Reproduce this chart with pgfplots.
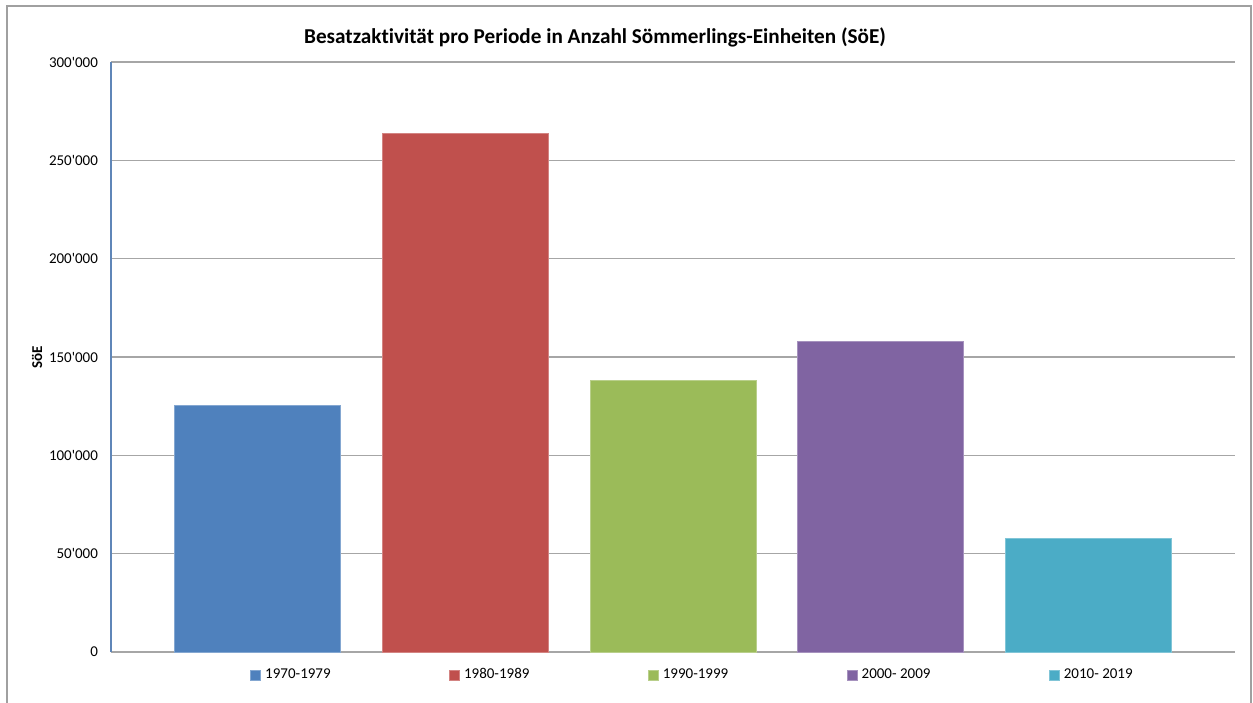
\documentclass[border=0pt]{standalone}
\usepackage{pgfplots}
\pgfplotsset{compat=1.18}
\usepackage{fontspec}
\setmainfont{Carlito}[Ligatures={TeXOff,NoCommon}]

\definecolor{cA}{HTML}{4F81BD}
\definecolor{cB}{HTML}{C0504D}
\definecolor{cC}{HTML}{9BBB59}
\definecolor{cD}{HTML}{8064A2}
\definecolor{cE}{HTML}{4BACC6}
\definecolor{gridgray}{HTML}{A6A6A6}
\definecolor{frame}{HTML}{A0A0A0}
\definecolor{yaxisblue}{HTML}{5F86B8}

\begin{document}
\begin{tikzpicture}
\useasboundingbox (0,0) rectangle (626.5pt,351pt);
% outer chart frame
\draw[frame, line width=1pt] (3.5pt,-6pt) rectangle (625.5pt,348pt);
% title
\node[font=\fontsize{10.6}{12}\selectfont\bfseries] at (297.5pt,332.5pt)
  {Besatzaktivität pro Periode in Anzahl Sömmerlings-Einheiten (SöE)};

\begin{axis}[
  at={(55.5pt,25pt)}, anchor=south west,
  scale only axis, width=562pt, height=295pt,
  xmin=-0.705, xmax=4.705, ymin=0, ymax=300000,
  xtick=\empty,
  scaled y ticks=false,
  ytick={0,50000,100000,150000,200000,250000,300000},
  yticklabels={0,50'000,100'000,150'000,200'000,250'000,300'000},
  yticklabel style={font=\fontsize{7.5}{9}\selectfont, xshift=-3pt},
  major tick length=0pt,
  ymajorgrids, grid style={gridgray, line width=0.8pt},
  axis x line*=bottom, axis y line*=left,
  x axis line style={gridgray, line width=1pt, -},
  y axis line style={yaxisblue, line width=0.6pt, -},
  ylabel={SöE},
  ylabel style={font=\fontsize{7.5}{9}\selectfont\bfseries,
    at={(axis description cs:-0.0658,0.5)}, anchor=center},
  ybar, bar width=0.8, bar shift=0pt,
  legend columns=5,
  legend style={at={(axis description cs:0.1237,-0.039)}, anchor=west,
    draw=none, fill=none, inner xsep=0pt,
    font=\fontsize{7.5}{9}\selectfont,
    /tikz/every even column/.append style={column sep=57.3pt}},
  legend image code/.code={\fill[#1] (0pt,-2.5pt) rectangle (5pt,2.5pt);},
]
\addplot[fill=cA, draw=cA!70!white, line width=0.4pt] coordinates {(0,125600)};
\addlegendentry{1970-1979}
\addplot[fill=cB, draw=cB!70!white, line width=0.4pt] coordinates {(1,263600)};
\addlegendentry{1980-1989}
\addplot[fill=cC, draw=cC!70!white, line width=0.4pt] coordinates {(2,138300)};
\addlegendentry{1990-1999}
\addplot[fill=cD, draw=cD!70!white, line width=0.4pt] coordinates {(3,157900)};
\addlegendentry{2000- 2009}
\addplot[fill=cE, draw=cE!70!white, line width=0.4pt] coordinates {(4,57700)};
\addlegendentry{2010- 2019}
\end{axis}
\end{tikzpicture}
\end{document}
